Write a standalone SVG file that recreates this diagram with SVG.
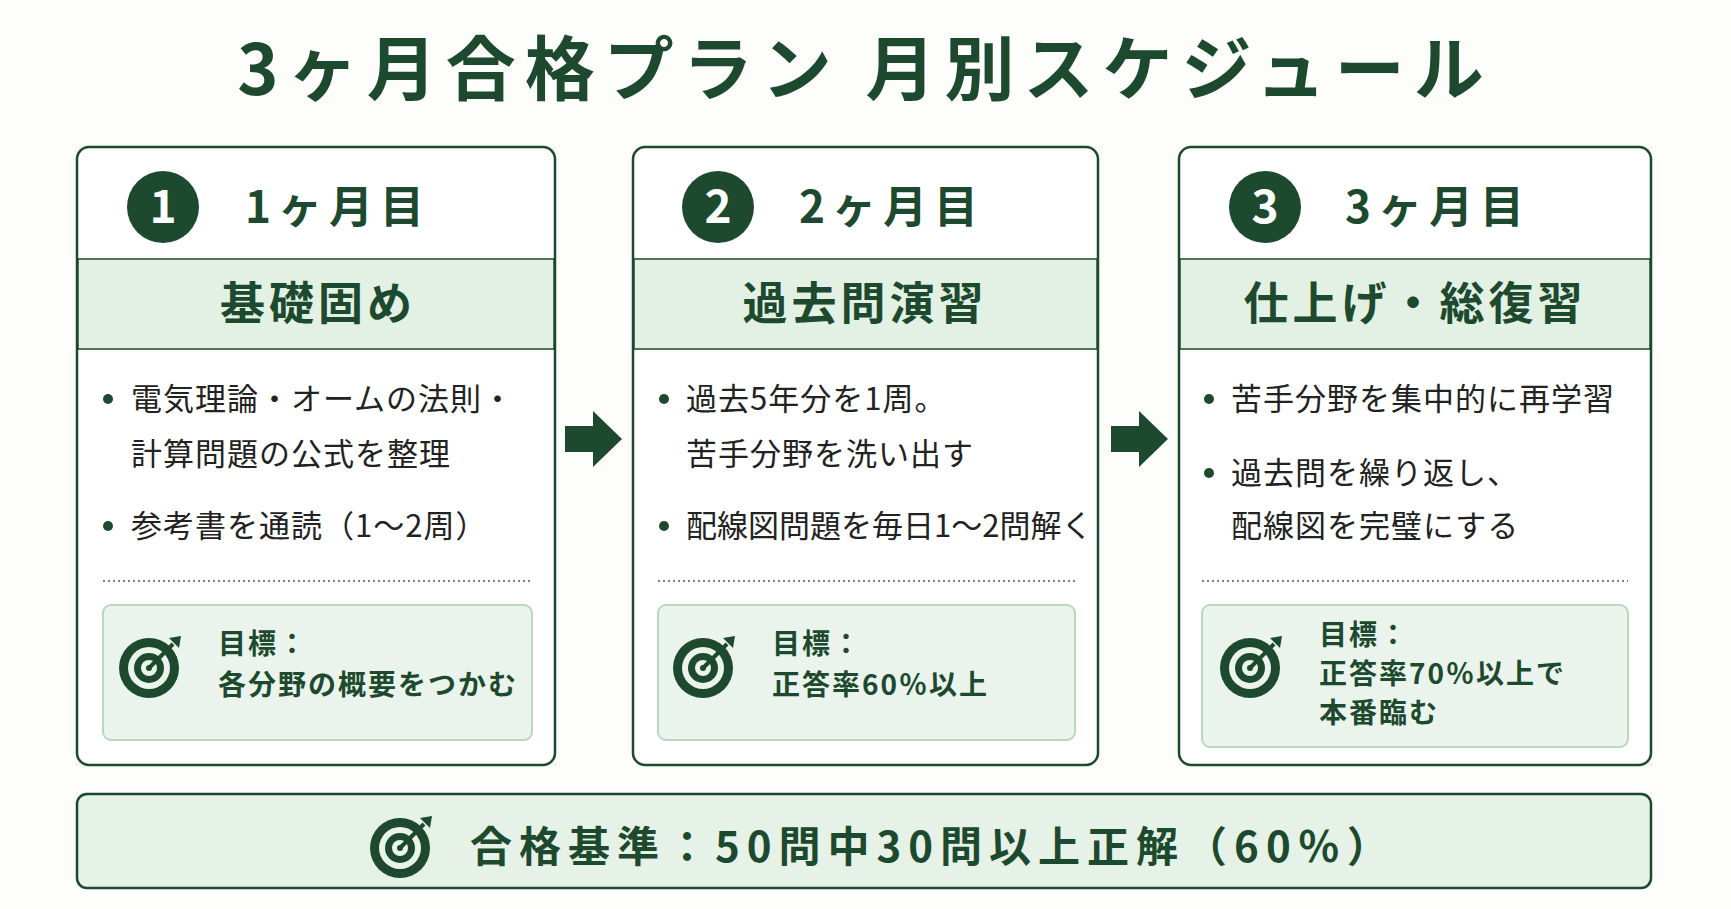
<svg xmlns="http://www.w3.org/2000/svg" width="1731" height="909" viewBox="0 0 1731 909">
<style>
.t{font-family:"Noto Sans CJK JP","Noto Sans",sans-serif;fill:#1d4a2e}
.card{fill:#fff;stroke:#1d4a2e;stroke-width:2.5}
.band{fill:#e3f0e4;stroke:#1d4a2e;stroke-width:1.5}
.goal{fill:#eaf4ec;stroke:#b9d6be;stroke-width:2}
.b{font-size:31px;fill:#222;letter-spacing:1px}
.g{font-size:28px;font-weight:700;letter-spacing:2px}
.h{font-size:44px;font-weight:700;letter-spacing:7px}
.bt{font-size:45px;font-weight:700;letter-spacing:4px}
.n{font-size:46px;font-weight:700;fill:#fff}
.dot{stroke:#555;stroke-width:1.5;stroke-dasharray:2 3}
</style>
<defs>
<g id="tgt">
<circle r="30" fill="#1d4a2e"/><circle r="21" fill="#eaf4ec"/><circle r="15" fill="#1d4a2e"/><circle r="8" fill="#eaf4ec"/><circle r="3" fill="#1d4a2e"/>
<line x1="0" y1="0" x2="24" y2="-24" stroke="#1d4a2e" stroke-width="4"/>
<polygon points="20,-30 32,-32 30,-20 26,-24" fill="#1d4a2e"/>
</g>
</defs>
<rect width="1731" height="909" fill="#fdfdfc"/>
<text class="t" x="865" y="95" text-anchor="middle" font-size="70" font-weight="700" letter-spacing="9">3ヶ月合格プラン 月別スケジュール</text>
<g id="card1">
<rect class="card" x="77" y="147" width="478" height="618" rx="12"/>
<rect class="band" x="78" y="259" width="476" height="90"/>
<circle cx="163" cy="207" r="36" fill="#1d4a2e"/>
<text class="t n" x="163" y="223" text-anchor="middle" style="fill:#fff">1</text>
<text class="t h" x="245" y="223">1ヶ月目</text>
<text class="t bt" x="318" y="320" text-anchor="middle">基礎固め</text>
<circle cx="108" cy="399" r="5" fill="#1d4a2e"/>
<text class="t b" x="131" y="410">電気理論・オームの法則・</text>
<text class="t b" x="131" y="465">計算問題の公式を整理</text>
<circle cx="108" cy="526" r="5" fill="#1d4a2e"/>
<text class="t b" x="131" y="537">参考書を通読（1〜2周）</text>
<line class="dot" x1="103" y1="581" x2="533" y2="581"/>
<rect class="goal" x="103" y="605" width="429" height="135" rx="8"/>
<use href="#tgt" x="149" y="668"/>
<text class="t g" x="218" y="654">目標：</text>
<text class="t g" x="218" y="695">各分野の概要をつかむ</text>
</g>
<g id="card2">
<rect class="card" x="633" y="147" width="465" height="618" rx="12"/>
<rect class="band" x="634" y="259" width="463" height="90"/>
<circle cx="718" cy="207" r="36" fill="#1d4a2e"/>
<text class="t n" x="718" y="223" text-anchor="middle" style="fill:#fff">2</text>
<text class="t h" x="799" y="223">2ヶ月目</text>
<text class="t bt" x="865" y="320" text-anchor="middle">過去問演習</text>
<circle cx="664" cy="399" r="5" fill="#1d4a2e"/>
<text class="t b" x="686" y="410">過去5年分を1周。</text>
<text class="t b" x="686" y="465">苦手分野を洗い出す</text>
<circle cx="664" cy="526" r="5" fill="#1d4a2e"/>
<text class="t b" x="686" y="537" style="letter-spacing:0">配線図問題を毎日1〜2問解く</text>
<line class="dot" x1="658" y1="581" x2="1075" y2="581"/>
<rect class="goal" x="658" y="605" width="417" height="135" rx="8"/>
<use href="#tgt" x="703" y="668"/>
<text class="t g" x="772" y="654">目標：</text>
<text class="t g" x="772" y="695">正答率60％以上</text>
</g>
<g id="card3">
<rect class="card" x="1179" y="147" width="472" height="618" rx="12"/>
<rect class="band" x="1180" y="259" width="470" height="90"/>
<circle cx="1265" cy="207" r="36" fill="#1d4a2e"/>
<text class="t n" x="1265" y="223" text-anchor="middle" style="fill:#fff">3</text>
<text class="t h" x="1345" y="223">3ヶ月目</text>
<text class="t bt" x="1415" y="320" text-anchor="middle">仕上げ・総復習</text>
<circle cx="1209" cy="399" r="5" fill="#1d4a2e"/>
<text class="t b" x="1231" y="410">苦手分野を集中的に再学習</text>
<circle cx="1209" cy="473" r="5" fill="#1d4a2e"/>
<text class="t b" x="1231" y="484">過去問を繰り返し、</text>
<text class="t b" x="1231" y="537">配線図を完璧にする</text>
<line class="dot" x1="1202" y1="581" x2="1628" y2="581"/>
<rect class="goal" x="1202" y="605" width="426" height="142" rx="8"/>
<use href="#tgt" x="1250" y="668"/>
<text class="t g" x="1319" y="645">目標：</text>
<text class="t g" x="1319" y="684">正答率70％以上で</text>
<text class="t g" x="1319" y="723">本番臨む</text>
</g>
<g id="connectors" fill="#1d4a2e">
<polygon points="565,426 593,426 593,411 622,439 593,467 593,452 565,452"/>
<polygon points="1111,426 1139,426 1139,411 1168,439 1139,467 1139,452 1111,452"/>
</g>
<g id="criteria">
<rect x="77" y="794" width="1574" height="94" rx="10" fill="#e6f1e7" stroke="#1d4a2e" stroke-width="2.5"/>
<use href="#tgt" x="400" y="848"/>
<text class="t" x="470" y="862" font-size="42" font-weight="700" letter-spacing="7">合格基準：50問中30問以上正解（60％）</text>
</g>
</svg>
